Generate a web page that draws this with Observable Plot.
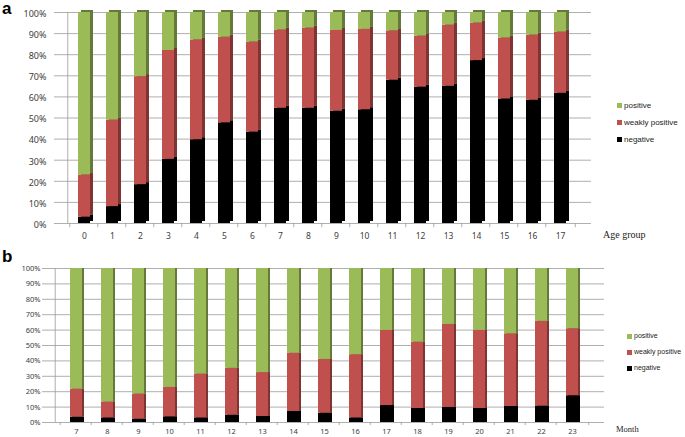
<!DOCTYPE html>
<html><head><meta charset="utf-8">
<script src="https://cdn.jsdelivr.net/npm/d3@7"></script>
<script src="https://cdn.jsdelivr.net/npm/@observablehq/plot@0.6"></script>
<style>
body{margin:0;background:#fff;}
#wrap{position:relative;width:685px;height:437px;overflow:hidden;font-family:"Liberation Sans",Arial,sans-serif;}
#wrap svg{position:absolute;left:0;overflow:visible;}
.abs{position:absolute;white-space:nowrap;line-height:1;}
.panel{font-weight:bold;font-size:17px;color:#000;}
.leg{font-size:8px;color:#222;}
.legb{font-size:7px;color:#222;}
.sw{display:inline-block;width:5px;height:5px;margin-right:2px;vertical-align:middle;}
.axt{font-family:"Liberation Serif","Times New Roman",serif;color:#222;}
</style></head>
<body><div id="wrap"></div>
<script>
const series = ["negative", "weakly positive", "positive"];
const seriesColors = ["#000000", "#c0504d", "#9bbb59"];
const yTicks = [0, 0.1, 0.2, 0.3, 0.4, 0.5, 0.6, 0.7, 0.8, 0.9, 1];

// Panel a: age groups
const ageGroups = [0,1,2,3,4,5,6,7,8,9,10,11,12,13,14,15,16,17];
const ageNegative = [3, 8, 18.4, 30.4, 39.7, 47.7, 43.3, 54.6, 54.6, 53.2, 53.9, 67.9, 64.6, 65, 77.2, 59, 58.4, 61.7];
const ageWeakly   = [20, 41, 51.2, 51.6, 47.3, 40.6, 42.7, 37.1, 38, 38.3, 38.1, 23.4, 24.2, 29, 17.8, 28.9, 30.9, 29];
const agePositive = [77, 51, 30.4, 18, 13, 11.7, 14, 8.3, 7.4, 8.5, 8, 8.7, 11.2, 6, 5, 12.1, 10.7, 9.3];

// Panel b: months
const months = [7,8,9,10,11,12,13,14,15,16,17,18,19,20,21,22,23];
const monthNegative = [3.5, 3, 2.2, 3.7, 3, 4.8, 3.9, 7.2, 6.1, 3, 11, 9.1, 9.8, 9.1, 10.4, 10.7, 17.4];
const monthWeakly   = [18.2, 10.3, 16.3, 19.1, 28.5, 30.4, 28.5, 37.8, 34.9, 41, 48.8, 43.1, 53.9, 50.7, 47.2, 55, 43.5];
const monthPositive = [78.3, 86.7, 81.5, 77.2, 68.5, 64.8, 67.6, 55, 59, 56, 40.2, 47.8, 36.3, 40.2, 42.4, 34.3, 39.1];

function rows(cats, neg, weak, pos) {
  const out = [];
  cats.forEach((c, i) => {
    out.push({cat: c, series: series[0], value: neg[i]});
    out.push({cat: c, series: series[1], value: weak[i]});
    out.push({cat: c, series: series[2], value: pos[i]});
  });
  return out;
}

const wrap = document.getElementById("wrap");

function panel(cfg) {
  const data = rows(cfg.cats, cfg.neg, cfg.weak, cfg.pos);
  const step = (cfg.width - cfg.marginLeft - cfg.marginRight) / cfg.cats.length;
  const st = (o) => Plot.stackY({x: "cat", y: "value", z: "series", offset: "normalize", order: series, ...o});
  const chart = Plot.plot({
    width: cfg.width, height: cfg.height,
    marginLeft: cfg.marginLeft, marginRight: cfg.marginRight,
    marginTop: cfg.marginTop, marginBottom: cfg.marginBottom,
    x: {domain: cfg.cats, padding: cfg.padding, axis: null, label: null},
    y: {domain: [0, 1], axis: null, label: null},
    color: {domain: series, range: seriesColors},
    style: {background: "transparent", overflow: "visible"},
    marks: [
      Plot.ruleY(yTicks, {stroke: "#9a9a9a", strokeWidth: 0.8, insetLeft: cfg.gridInsetLeft, insetRight: cfg.gridInsetRight}),
      Plot.ruleX([cfg.cats[0]], {x: d => d, dx: -step / 2 - cfg.axisGap, y1: 0, y2: 1, stroke: "#9a9a9a", strokeWidth: 0.8}),
      Plot.ruleX(cfg.cats, {x: d => d, dx: -step / 2, y1: 0, y2: -0.02, stroke: "#9a9a9a", strokeWidth: 0.8}),
      Plot.ruleX([cfg.cats[cfg.cats.length - 1]], {x: d => d, dx: step / 2, y1: 0, y2: -0.02, stroke: "#9a9a9a", strokeWidth: 0.8}),
      // side/top faces
      Plot.barY(data, st({fill: "series", dx: cfg.depth, dy: -cfg.depthY})),
      Plot.barY(data, st({fill: "#000", fillOpacity: 0.35, dx: cfg.depth, dy: -cfg.depthY})),
      // front faces
      Plot.barY(data, st({fill: "series"})),
      Plot.axisY({ticks: yTicks, tickFormat: d3.format(".0%"), tickSize: 0, tickPadding: cfg.yPad, fontSize: cfg.yFont, fill: "#404040", dy: cfg.yDy, label: null}),
      Plot.axisX({tickSize: 0, tickPadding: cfg.xPad, fontSize: cfg.xFont, fill: "#404040", label: null})
    ]
  });
  chart.style.top = cfg.top + "px";
  wrap.appendChild(chart);
}

panel({cats: ageGroups, neg: ageNegative, weak: ageWeakly, pos: agePositive,
  top: 0, width: 593, height: 244, marginLeft: 56, marginRight: 6, marginTop: 12, marginBottom: 21,
  padding: 0.58, depth: 3, depthY: 2, gridInsetLeft: -2, gridInsetRight: -4, axisGap: 2,
  yPad: 10, yFont: 9, yDy: 1.5, xPad: 9, xFont: 8.5});

panel({cats: months, neg: monthNegative, weak: monthWeakly, pos: monthPositive,
  top: 245, width: 606, height: 192, marginLeft: 47, marginRight: 5, marginTop: 23, marginBottom: 15,
  padding: 0.6, depth: 2, depthY: 0, gridInsetLeft: -5, gridInsetRight: -3, axisGap: 5,
  yPad: 7, yFont: 7.5, yDy: 0, xPad: 6, xFont: 7.5});

function addText(html, cls, left, top, size) {
  const d = document.createElement("div");
  d.className = "abs " + cls;
  d.style.left = left + "px";
  d.style.top = top + "px";
  if (size) d.style.fontSize = size + "px";
  d.innerHTML = html;
  wrap.appendChild(d);
}
addText("a", "panel", 2, 0);
addText("b", "panel", 2, 248);
addText("Age group", "axt", 603, 230, 10);
addText("Month", "axt", 616, 425, 8.5);

function legend(left, top, gap, cls) {
  const order = [2, 1, 0];
  order.forEach((k, j) => {
    addText(`<span class="sw" style="background:${seriesColors[k]}"></span>${series[k]}`, cls, left, top + j * gap);
  });
}
legend(617, 102, 17, "leg");
legend(627, 332, 16, "legb");
</script>
</body></html>
